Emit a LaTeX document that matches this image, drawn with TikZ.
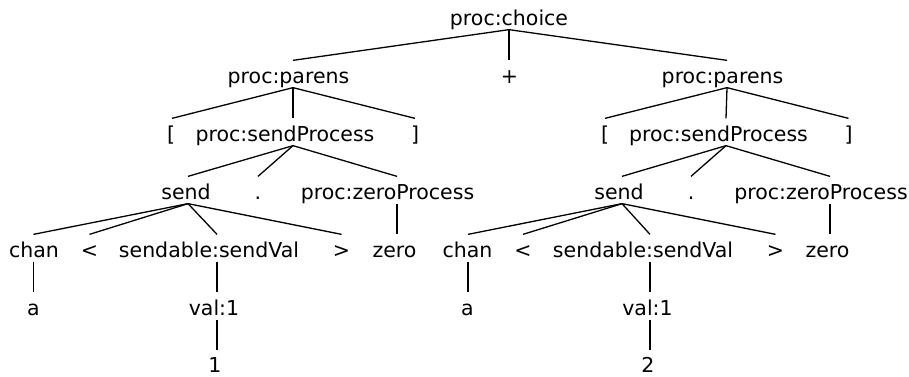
\documentclass[tikz,border=0pt]{standalone}
\usepackage{fontspec}
\setmainfont{DejaVu Sans}
% edge from the foot of one label to the head of another; #2 and #4 move the
% attachment point sideways from the label's centre
\newcommand\treeedge[4]{\draw ([xshift=#2pt]#1.south) -- ([xshift=#4pt]#3.north);}
\tikzset{
  lbl/.style={anchor=base, inner sep=0pt, text height=22pt, text depth=4pt,
              font=\fontsize{20.5pt}{24pt}\selectfont},
  leaf/.style={lbl, text depth=0pt},
  every path/.style={line width=1.3pt, black}
}
\begin{document}
\begin{tikzpicture}[x=1pt, y=-1pt]
\useasboundingbox (0,0) rectangle (909,376);

% row 1
\node[lbl] (choice) at (509,25) {proc:choice};
% row 2
\node[lbl] (parL) at (288.5,83) {proc:parens};
\node[lbl] (plus) at (509.5,83) {+};
\node[lbl] (parR) at (722.5,83) {proc:parens};
% row 3
\node[lbl] (lbL) at (171,141) {[};
\node[lbl] (spL) at (285,141) {proc:sendProcess};
\node[lbl] (rbL) at (415,141) {]};
\node[lbl] (lbR) at (605,141) {[};
\node[lbl] (spR) at (718.5,141) {proc:sendProcess};
\node[lbl] (rbR) at (848.5,141) {]};
% row 4
\node[lbl] (sendL) at (186,199) {send};
\node[lbl] (dotL) at (258,199) {.};
\node[lbl] (zpL) at (387.5,199) {proc:zeroProcess};
\node[lbl] (sendR) at (619,199) {send};
\node[lbl] (dotR) at (691,199) {.};
\node[lbl] (zpR) at (821,199) {proc:zeroProcess};
% row 5
\node[lbl] (chanL) at (34,257) {chan};
\node[lbl] (ltL) at (89.5,257) {<};
\node[lbl] (svL) at (209,257) {sendable:sendVal};
\node[lbl] (gtL) at (341.5,257) {>};
\node[lbl] (zeroL) at (394.5,257) {zero};
\node[lbl] (chanR) at (467.5,257) {chan};
\node[lbl] (ltR) at (523,257) {<};
\node[lbl] (svR) at (643,257) {sendable:sendVal};
\node[lbl] (gtR) at (775.5,257) {>};
\node[lbl] (zeroR) at (827.5,257) {zero};
% row 6
\node[lbl] (aL) at (33.5,315) {a};
\node[lbl] (valL) at (214,315) {val:1};
\node[lbl] (aR) at (467.5,315) {a};
\node[lbl] (valR) at (647.5,315) {val:1};
% row 7
\node[leaf] (one) at (215,372.5) {1};
\node[leaf] (two) at (648,372.5) {2};

% connectors
\treeedge{choice}{0}{parL}{4.5}
\treeedge{choice}{0}{plus}{-0.5}
\treeedge{choice}{0}{parR}{4.5}

\treeedge{parL}{4.5}{lbL}{1}
\treeedge{parL}{4.5}{spL}{8}
\treeedge{parL}{4.5}{rbL}{0}
\treeedge{parR}{4.5}{lbR}{0}
\treeedge{parR}{4.5}{spR}{7.5}
\treeedge{parR}{4.5}{rbR}{0}

\treeedge{spL}{8}{sendL}{2}
\treeedge{spL}{8}{dotL}{0}
\treeedge{spL}{8}{zpL}{9.5}
\treeedge{spR}{7.5}{sendR}{3}
\treeedge{spR}{7.5}{dotR}{0}
\treeedge{spR}{7.5}{zpR}{9}

\treeedge{sendL}{2}{chanL}{-0.5}
\treeedge{sendL}{2}{ltL}{0}
\treeedge{sendL}{2}{svL}{8}
\treeedge{sendL}{2}{gtL}{0}
\treeedge{zpL}{9.5}{zeroL}{2.5}
\treeedge{sendR}{3}{chanR}{0.5}
\treeedge{sendR}{3}{ltR}{0}
\treeedge{sendR}{3}{svR}{7}
\treeedge{sendR}{3}{gtR}{0}
\treeedge{zpR}{9}{zeroR}{2.5}

\treeedge{chanL}{-0.5}{aL}{0}
\treeedge{svL}{8}{valL}{3}
\treeedge{valL}{3}{one}{2}
\treeedge{chanR}{0.5}{aR}{0.5}
\treeedge{svR}{7}{valR}{2.5}
\treeedge{valR}{2.5}{two}{2}
\end{tikzpicture}
\end{document}
